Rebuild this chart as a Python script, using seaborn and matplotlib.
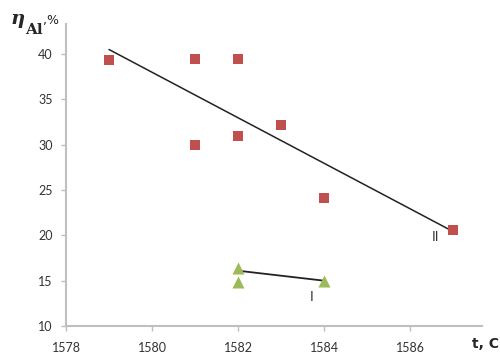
import matplotlib
matplotlib.use("Agg")
import matplotlib.pyplot as plt
import seaborn as sns
import pandas as pd
import numpy as np

# Data
x_II = [1579, 1581, 1582, 1581, 1582, 1583, 1584, 1587]
y_II = [39.3, 39.5, 39.5, 30.0, 31.0, 32.2, 24.1, 20.6]
x_I = [1582, 1582, 1584]
y_I = [16.4, 14.9, 15.0]
trend_I_x = [1582, 1584]
trend_I_y = [16.1, 15.0]
x_ticks = [1578, 1580, 1582, 1584, 1586]
y_ticks = [10, 15, 20, 25, 30, 35, 40]

df_II = pd.DataFrame({"t": x_II, "eta": y_II})
df_I = pd.DataFrame({"t": x_I, "eta": y_I})
df_trend_I = pd.DataFrame({"t": trend_I_x, "eta": trend_I_y})

sns.set_style("white")
plt.rcParams['font.family'] = ['Lato', 'DejaVu Sans']

fig = plt.figure(figsize=(5.0, 3.54), dpi=100)
ax = fig.add_axes([0.132, 0.079, 0.832, 0.853])

red = "#C0504D"
green = "#9BBB59"
gray = "#BFBFBF"

sns.regplot(data=df_II, x="t", y="eta", ax=ax, ci=None, truncate=True, marker="s",
            scatter_kws=dict(s=55, color=red, linewidths=0, zorder=3, alpha=1),
            line_kws=dict(color="#222222", lw=1.1, zorder=2))
sns.lineplot(data=df_trend_I, x="t", y="eta", ax=ax, color="#222222", lw=1.3, zorder=2)
sns.scatterplot(data=df_I, x="t", y="eta", ax=ax, marker="^", s=75, color=green,
                linewidth=0, zorder=3)

ax.set_xlim(1578, 1587.67)
ax.set_ylim(10, 43.3)
ax.set_xticks(x_ticks)
ax.set_yticks(y_ticks)
ax.set_xlabel("")
ax.set_ylabel("")

for s in ["top", "right"]:
    ax.spines[s].set_visible(False)
for s in ["left", "bottom"]:
    ax.spines[s].set_color(gray)
    ax.spines[s].set_linewidth(1.5)
ax.tick_params(axis="both", which="both", direction="out", length=3.5, width=1,
               color=gray, labelsize=9, labelcolor="#333333", bottom=True, left=True)
ax.tick_params(axis="x", pad=8)
ax.tick_params(axis="y", pad=6)

ax.text(1586.58, 19.8, "II", fontsize=10, color="#333333", ha="center", va="center")
ax.text(1583.72, 13.2, "I", fontsize=10, color="#333333", ha="center", va="center")

# Axis titles
fig.text(0.022, 0.945, "η", fontsize=14, fontweight="bold", fontstyle="italic",
         family="DejaVu Serif", ha="left", va="center")
fig.text(0.05, 0.915, "Al", fontsize=11, fontweight="bold",
         family="DejaVu Serif", ha="left", va="center")
fig.text(0.086, 0.943, ",%", fontsize=9, family="DejaVu Sans", color="#222222",
         ha="left", va="center")
fig.text(0.945, 0.028, "t, C", fontsize=10, fontweight="bold", family="DejaVu Sans",
         ha="left", va="center")

fig.savefig("out.png", dpi=100, facecolor="white")
